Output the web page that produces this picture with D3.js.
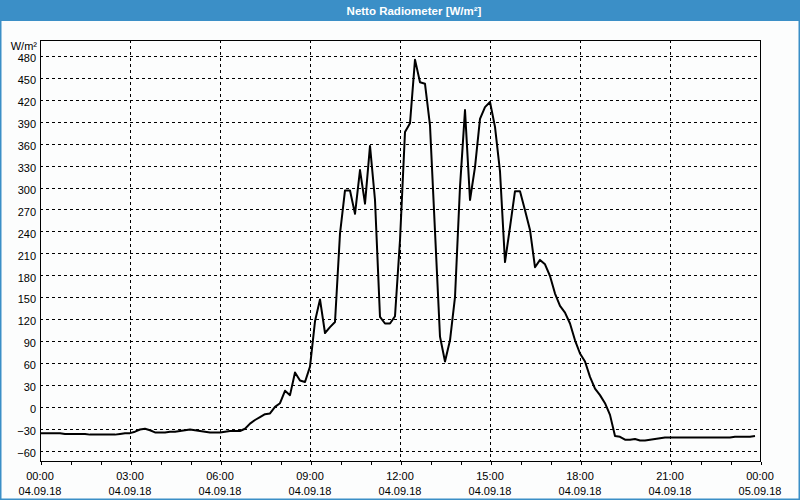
<!DOCTYPE html>
<html><head><meta charset="utf-8">
<script src="https://cdn.jsdelivr.net/npm/d3@7"></script>
<style>
html,body{margin:0;padding:0;background:#fcfdfd;}
svg{display:block;}
</style></head>
<body>
<svg id="chart" width="800" height="500"></svg>
<script>
// ---- data ----
const chartTitle = "Netto Radiometer [W/m²]";
const unitLabel = "W/m²";
const startTime = "2018-09-04T00:00:00";
const endTime = "2018-09-05T00:00:00";
const stepMinutes = 10;
// net radiation, one value every 10 minutes from 00:00
const values = [
  -36,-36,-36,-36,-36,-37,-37,-37,
  -37,-37,-38,-38,-38,-38,-38,-38,
  -37,-36,-36,-34,-31,-30,-32,-35,
  -35,-35,-34,-34,-33,-32,-31,-32,
  -33,-34,-35,-35,-35,-34,-33,-33,
  -33,-30,-23,-18,-14,-10,-9,0,
  5,22,16,47,36,34,55,117,
  147,101,109,116,237,296,296,264,
  324,278,357,283,123,114,114,124,
  228,376,388,475,444,442,385,240,
  96,62,91,150,301,406,283,328,
  394,410,417,383,322,198,246,295,
  295,269,242,191,201,195,179,155,
  138,129,114,91,73,62,41,25,
  16,5,-11,-40,-41,-45,-45,-44,
  -46,-46,-45,-44,-43,-42,-42,-42,
  -42,-42,-42,-42,-42,-42,-42,-42,
  -42,-42,-42,-41,-41,-41,-41,-40
];
const yTicks = [-60,-30,0,30,60,90,120,150,180,210,240,270,300,330,360,390,420,450,480];
const xTickHours = 3;

// ---- layout ----
const svg = d3.select("#chart");
const W = 800, H = 500;
const plot = {left:40, right:760, top:40, bottom:461};
const blue = "#3b8fc7";
const font = "'Liberation Sans', Arial, sans-serif";

const t0 = new Date(startTime), t1 = new Date(endTime);
const data = values.map((v,i)=>({t:new Date(t0.getTime()+i*stepMinutes*60000), v}));

const x = d3.scaleTime().domain([t0,t1]).range([plot.left, plot.right]);
const y = d3.scaleLinear().domain([-60,480]).range([450.7,56]);

// frame & title bar
svg.append("rect").attr("x",0).attr("y",0).attr("width",W).attr("height",H).attr("fill","#fcfdfd");
svg.append("rect").attr("x",0.75).attr("y",0.75).attr("width",W-1.5).attr("height",H-1.5)
  .attr("fill","none").attr("stroke",blue).attr("stroke-width",1.5);
svg.append("rect").attr("x",0).attr("y",0).attr("width",W).attr("height",21).attr("fill",blue);
svg.append("text").attr("x",414).attr("y",14.5).attr("text-anchor","middle")
  .attr("fill","#fff").attr("font-family",font).attr("font-weight","bold").attr("font-size","11.5px")
  .text(chartTitle);

// grid
const grid = svg.append("g").attr("stroke","#000").attr("stroke-width",1).attr("stroke-dasharray","3,3").attr("shape-rendering","crispEdges");
grid.selectAll("line.h").data(yTicks).join("line")
  .attr("x1",plot.left).attr("x2",plot.right)
  .attr("y1",d=>Math.round(y(d))+0.5).attr("y2",d=>Math.round(y(d))+0.5);
const xGridTicks = x.ticks(d3.timeHour.every(xTickHours)).filter(d=>d>t0 && d<t1);
grid.selectAll("line.v").data(xGridTicks).join("line")
  .attr("y1",plot.top).attr("y2",plot.bottom)
  .attr("x1",d=>Math.round(x(d))+0.5).attr("x2",d=>Math.round(x(d))+0.5);

// axes
const xAxis = d3.axisBottom(x).ticks(d3.timeHour.every(1)).tickSize(3).tickFormat("");
const gx = svg.append("g").attr("transform",`translate(0.5,${plot.bottom+0.5})`).call(xAxis);
gx.select(".domain").remove();
gx.selectAll("line").attr("stroke","#000").attr("shape-rendering","crispEdges");

const labelTicks = x.ticks(d3.timeHour.every(xTickHours));
const fmtT = d3.timeFormat("%H:%M"), fmtD = d3.timeFormat("%d.%m.%y");
const xl = svg.append("g").attr("font-family",font).attr("font-size","11px").attr("fill","#000").attr("text-anchor","middle");
xl.selectAll("text.t").data(labelTicks).join("text").attr("x",d=>x(d)).attr("y",479.5).text(d=>fmtT(d));
xl.selectAll("text.d").data(labelTicks).join("text").attr("x",d=>x(d)).attr("y",494.5).text(d=>fmtD(d));

const yAxis = d3.axisLeft(y).tickValues(yTicks).tickSize(0).tickPadding(4).tickFormat(d3.format("d"));
const gy = svg.append("g").attr("transform",`translate(${plot.left},0)`).call(yAxis);
gy.select(".domain").remove();
gy.selectAll("text").attr("font-family",font).attr("font-size","11px").attr("fill","#000").attr("dy","0.52em");
svg.append("text").attr("x",37).attr("y",50).attr("text-anchor","end")
  .attr("font-family",font).attr("font-size","11px").attr("fill","#000").text(unitLabel);

// plot box
svg.append("rect").attr("x",plot.left+0.5).attr("y",plot.top+0.5)
  .attr("width",plot.right-plot.left).attr("height",plot.bottom-plot.top)
  .attr("fill","none").attr("stroke","#000").attr("stroke-width",1).attr("shape-rendering","crispEdges");

// line
svg.append("clipPath").attr("id","clip").append("rect")
  .attr("x",plot.left).attr("y",plot.top).attr("width",plot.right-plot.left).attr("height",plot.bottom-plot.top);
svg.append("path").datum(data).attr("clip-path","url(#clip)")
  .attr("fill","none").attr("stroke","#000").attr("stroke-width",2).attr("stroke-linejoin","round")
  .attr("d",d3.line().x(d=>x(d.t)).y(d=>y(d.v)));
</script>
</body></html>
